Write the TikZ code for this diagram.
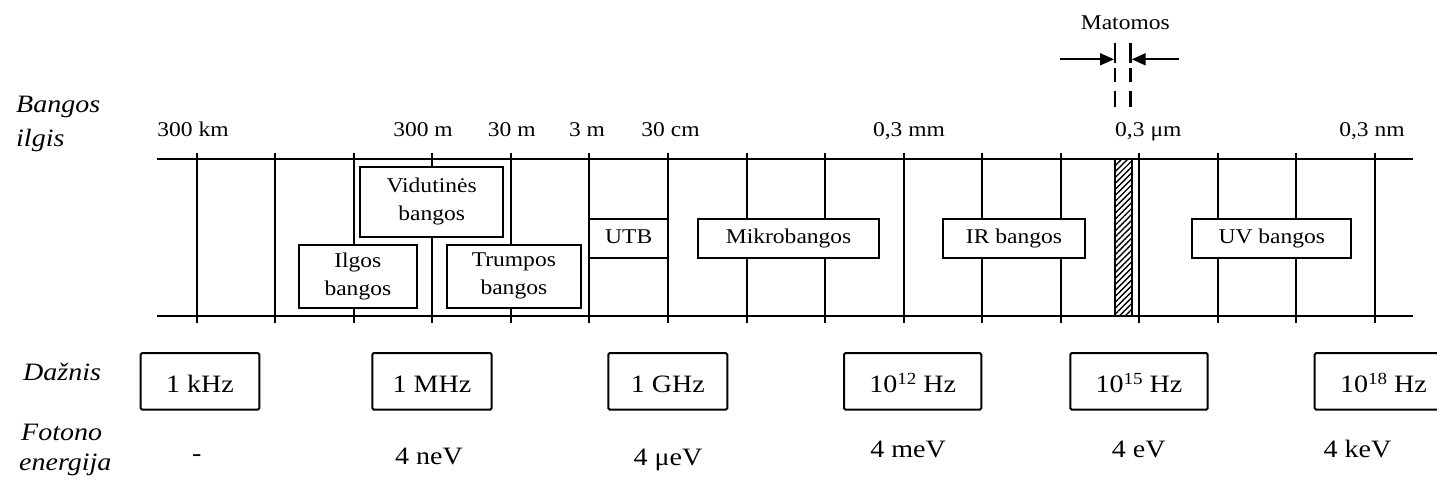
\documentclass[tikz,border=0pt]{standalone}
\usepackage{fontspec}
\setmainfont[FakeStretch=1.12]{Liberation Serif}
\usetikzlibrary{arrows.meta,patterns.meta}
\begin{document}
\begin{tikzpicture}[x=1pt,y=-1pt,
  ln/.style={line width=2pt},
  wl/.style={font=\fontsize{21}{25}\selectfont,inner sep=0pt,anchor=base},
  lab/.style={font=\fontsize{25}{30}\selectfont\itshape,inner sep=0pt,anchor=base west},
  band/.style={draw,fill=white,line width=2pt,inner sep=0pt,align=center,
    font=\fontsize{21}{28}\selectfont},
  one/.style={text height=14pt,text depth=4pt},
  freq/.style={draw,line width=2pt,rounded corners=1.5pt,inner sep=0pt,
    minimum height=56.7pt,text height=22pt,text depth=0pt,
    font=\fontsize{25}{30}\selectfont},
  en/.style={font=\fontsize{25}{30}\selectfont,inner sep=0pt,anchor=base},
  meas/.style={line width=1.8pt,-{Triangle[length=14pt,width=12pt]}},
  dsh/.style={line width=2.6pt,dash pattern=on 20.6pt off 5pt on 13.4pt off 9pt on 16.6pt off 30pt}
]
\useasboundingbox (0,0) rectangle (1437,479);
% band lines
\coordinate (tl) at (157,159.3);
\coordinate (tr) at (1413,159.3);
\coordinate (bl) at (157,315.7);
\coordinate (br) at (1413,315.7);
\draw[ln] (tl) -- (tr);
\draw[ln] (bl) -- (br);
\foreach \i in {0,...,15}{
  \coordinate (vt\i) at ({196.7+78.55*\i},152.7);
  \coordinate (vb\i) at ({196.7+78.55*\i},323.3);
  \draw[ln] (vt\i) -- (vb\i);
}
% wavelength labels
\node[wl] (w1) at (193,136) {300 km};
\node[wl] (w2) at (423,136) {300 m};
\node[wl] (w3) at (511.7,136) {30 m};
\node[wl] (w4) at (587,136) {3 m};
\node[wl] (w5) at (670.5,136) {30 cm};
\node[wl] (w6) at (909,136) {0,3 mm};
\node[wl] (w7) at (1148.3,136) {0,3 μm};
\node[wl] (w8) at (1372,136) {0,3 nm};
% row labels
\node[lab] (l1) at (16,112.3) {Bangos};
\node[lab] (l2) at (16,146.5) {ilgis};
\node[lab] (l3) at (23,380.7) {Dažnis};
\node[lab] (l4) at (21,440.7) {Fotono};
\node[lab] (l5) at (19,470.7) {energija};
% band boxes
\node[band,minimum width=143.3pt,minimum height=69.7pt] (vid) at (431.65,201.85) {Vidutinės\\bangos};
\node[band,minimum width=117.7pt,minimum height=62.7pt] (ilg) at (357.85,276.35) {Ilgos\\bangos};
\node[band,minimum width=134.3pt,minimum height=62.7pt] (tru) at (513.85,276.35) {Trumpos\\bangos};
\node[band,one,minimum width=78.6pt,minimum height=38.7pt] (utb) at (628.7,238.35) {UTB};
\node[band,one,minimum width=180.7pt,minimum height=38.7pt] (mik) at (788.65,238.35) {Mikrobangos};
\node[band,one,minimum width=142.6pt,minimum height=38.7pt] (ir) at (1014,238.35) {IR bangos};
\node[band,one,minimum width=159pt,minimum height=38.7pt] (uv) at (1271.8,238.35) {UV bangos};
% hatched visible range
\node[draw,line width=2.2pt,inner sep=0pt,minimum width=17pt,minimum height=156.4pt,
  pattern={Lines[angle=45,distance=4.2pt,line width=1.4pt]}] (vis) at (1123.2,237.5) {};
% Matomos
\node[wl] (mat) at (1125.3,29.3) {Matomos};
\coordinate (d1t) at (1115,42.7);
\coordinate (d1b) at (1115,107.3);
\coordinate (d2t) at (1130.7,42.7);
\coordinate (d2b) at (1130.7,107.3);
\draw[dsh] (d1t) -- (d1b);
\draw[dsh] (d2t) -- (d2b);
\coordinate (a1s) at (1060,59.3);
\coordinate (a1e) at (1114,59.3);
\coordinate (a2s) at (1179.3,59.3);
\coordinate (a2e) at (1131.7,59.3);
\draw[meas] (a1s) -- (a1e);
\draw[meas] (a2s) -- (a2e);
% frequency boxes
\node[freq,minimum width=118.6pt] (f1) at (200,381.35) {1 kHz};
\node[freq,minimum width=119.4pt] (f2) at (432,381.35) {1 MHz};
\node[freq,minimum width=119pt] (f3) at (667.8,381.35) {1 GHz};
\newcommand{\sups}[1]{\raisebox{8pt}{\fontsize{17}{17}\selectfont #1}}
\node[freq,minimum width=137.3pt] (f4) at (912.65,381.35) {10\sups{12} Hz};
\node[freq,minimum width=137.4pt] (f5) at (1139,381.35) {10\sups{15} Hz};
\node[freq,minimum width=137.3pt] (f6) at (1383.35,381.35) {10\sups{18} Hz};
% photon energies
\node[en] (e1) at (196.7,461) {-};
\node[en] (e2) at (429,464) {4 neV};
\node[en] (e3) at (668,465) {4 μeV};
\node[en] (e4) at (908,457.3) {4 meV};
\node[en] (e5) at (1138.7,457.3) {4 eV};
\node[en] (e6) at (1357.5,457.3) {4 keV};
\end{tikzpicture}
\end{document}
